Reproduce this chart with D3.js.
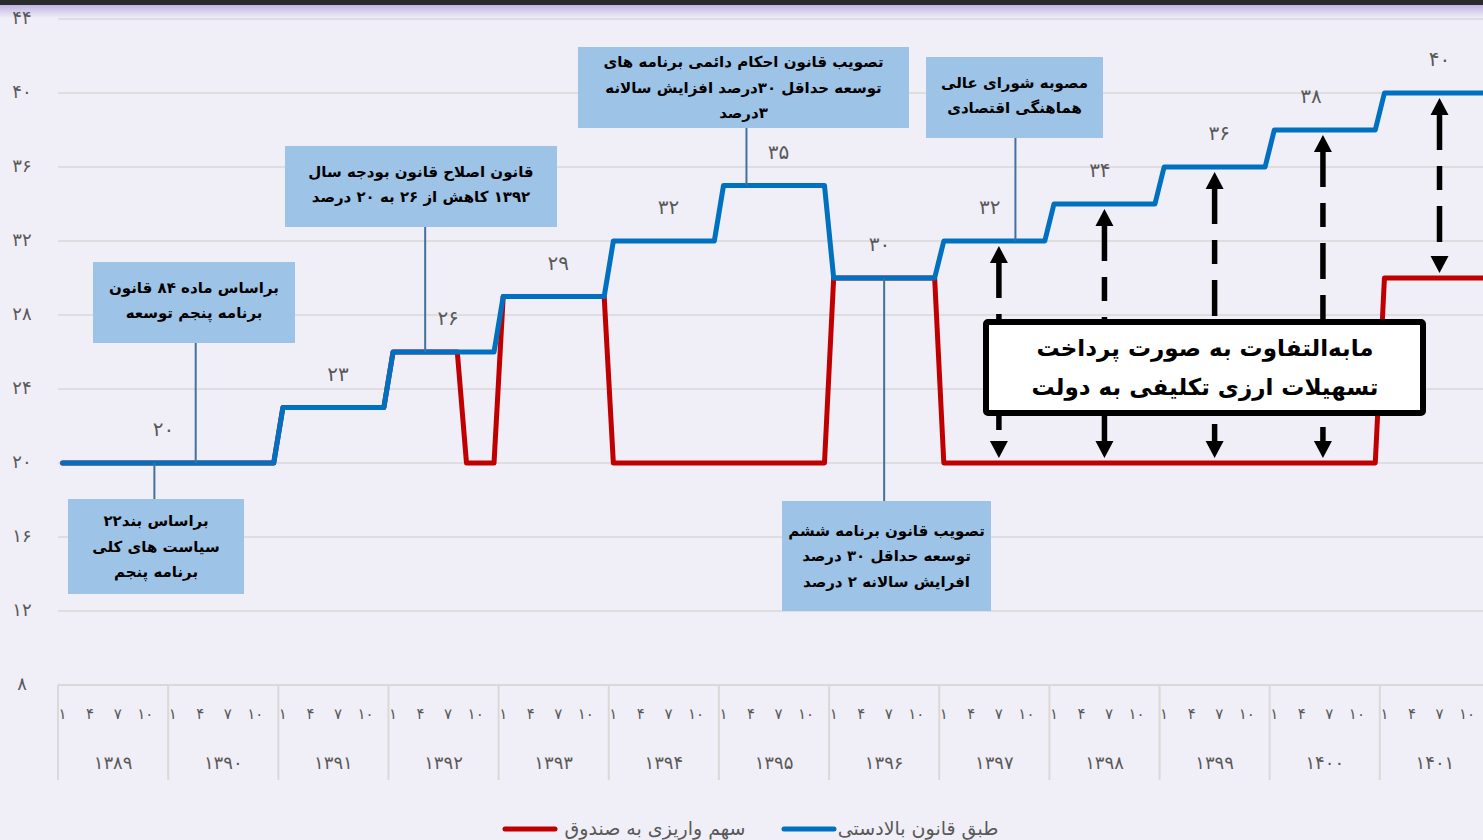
<!DOCTYPE html>
<html><head><meta charset="utf-8">
<script src="https://cdn.jsdelivr.net/npm/d3@7"></script>
<style>body{margin:0;background:#f0eef6;overflow:hidden} svg{display:block}</style>
</head><body><svg id="c" width="1483" height="840"></svg>
<script>
// ---------- data ----------
const years = [1389,1390,1391,1392,1393,1394,1395,1396,1397,1398,1399,1400,1401];
const monthTicks = [1,4,7,10];
const yTicks = [8,12,16,20,24,28,32,36,40,44];
// monthly values, one row per year
const blueValues = [
  20,20,20,20,20,20,20,20,20,20,20,20, // 1389
  20,20,20,20,20,20,20,20,20,20,20,20, // 1390
  23,23,23,23,23,23,23,23,23,23,23,23, // 1391
  26,26,26,26,26,26,26,26,26,26,26,26, // 1392
  29,29,29,29,29,29,29,29,29,29,29,29, // 1393
  32,32,32,32,32,32,32,32,32,32,32,32, // 1394
  35,35,35,35,35,35,35,35,35,35,35,35, // 1395
  30,30,30,30,30,30,30,30,30,30,30,30, // 1396
  32,32,32,32,32,32,32,32,32,32,32,32, // 1397
  34,34,34,34,34,34,34,34,34,34,34,34, // 1398
  36,36,36,36,36,36,36,36,36,36,36,36, // 1399
  38,38,38,38,38,38,38,38,38,38,38,38, // 1400
  40,40,40,40,40,40,40,40,40,40,40,40  // 1401
];
const redValues = [
  20,20,20,20,20,20,20,20,20,20,20,20, // 1389
  20,20,20,20,20,20,20,20,20,20,20,20, // 1390
  23,23,23,23,23,23,23,23,23,23,23,23, // 1391
  26,26,26,26,26,26,26,26,20,20,20,20, // 1392
  29,29,29,29,29,29,29,29,29,29,29,29, // 1393
  20,20,20,20,20,20,20,20,20,20,20,20, // 1394
  20,20,20,20,20,20,20,20,20,20,20,20, // 1395
  30,30,30,30,30,30,30,30,30,30,30,30, // 1396
  20,20,20,20,20,20,20,20,20,20,20,20, // 1397
  20,20,20,20,20,20,20,20,20,20,20,20, // 1398
  20,20,20,20,20,20,20,20,20,20,20,20, // 1399
  20,20,20,20,20,20,20,20,20,20,20,20, // 1400
  30,30,30,30,30,30,30,30,30,30,30,30  // 1401
];
const labelMonths = [11,30,42,54,66,78,89,101,113,126,136,150];
const arrowMonths = [102,113.5,125.5,137.3,150];
const seriesNames = ["سهم واریزی به صندوق","طبق قانون بالادستی"];
const noteTexts = [
  ["براساس بند۲۲","سیاست های کلی","برنامه پنجم"],
  ["براساس ماده ۸۴ قانون","برنامه پنجم توسعه"],
  ["قانون اصلاح قانون بودجه سال","۱۳۹۲ کاهش از ۲۶ به ۲۰ درصد"],
  ["تصویب قانون احکام دائمی برنامه های","توسعه حداقل ۳۰درصد افزایش سالانه","۳درصد"],
  ["تصویب قانون برنامه ششم","توسعه حداقل ۳۰ درصد","افرایش سالانه ۲ درصد"],
  ["مصوبه شورای عالی","هماهنگی اقتصادی"]
];
const noteMonths = [10,14.5,39.5,74.5,89.5,103.8]; // month each note points at
const boxText = ["مابه‌التفاوت به صورت پرداخت","تسهیلات ارزی تکلیفی به دولت"];

// ---------- layout ----------
const W = 1483, H = 840;
const noteBoxes = [ // x, y, w, h
  [68,499,176,95],[93,262,202,81],[285,146,272,81],[578,47,331,81],[782,501,209,110],[926,57,177,81]
];
const fa = n => String(n).replace(/\d/g, d => "۰۱۲۳۴۵۶۷۸۹"[d]);
const FONT = "'DejaVu Sans', sans-serif";
const GRAY = "#595959";

const svg = d3.select("#c");
svg.append("rect").attr("width",W).attr("height",H).attr("fill","#f0eef6");

const defs = svg.append("defs");
const grad = defs.append("linearGradient").attr("id","topg").attr("x1",0).attr("x2",0).attr("y1",0).attr("y2",1);
grad.append("stop").attr("offset","0%").attr("stop-color","#bfb0e2");
grad.append("stop").attr("offset","100%").attr("stop-color","#f0eef6");
svg.append("rect").attr("x",0).attr("y",4).attr("width",W).attr("height",14).attr("fill","url(#topg)");
svg.append("rect").attr("x",0).attr("y",0).attr("width",W).attr("height",5).attr("fill","#2b2b2b");

const x = d3.scaleBand().domain(d3.range(blueValues.length)).range([58,1490]);
const step = x.step();
const xf = m => 58 + (m + 0.5) * step;
const y = d3.scaleLinear().domain([8,44]).range([685,19]);

// gridlines
svg.append("g").selectAll("line").data(yTicks.slice(1)).join("line")
  .attr("x1",58).attr("x2",W).attr("y1",d=>y(d)).attr("y2",d=>y(d))
  .attr("stroke","#d9d9d9").attr("stroke-width",1.5);

// y labels
svg.append("g").selectAll("text").data(yTicks).join("text")
  .attr("x",22).attr("y",d=>y(d)-2).attr("dominant-baseline","central")
  .attr("text-anchor","middle").attr("font-family",FONT).attr("font-size",18)
  .attr("fill",GRAY).text(d=>fa(d));

// x axis
const ax = svg.append("g");
ax.append("line").attr("x1",58).attr("x2",W).attr("y1",y(8)).attr("y2",y(8))
  .attr("stroke","#d9d9d9").attr("stroke-width",2);
ax.selectAll("line.sep").data(d3.range(years.length+1)).join("line").attr("class","sep")
  .attr("x1",i=>58+i*12*step).attr("x2",i=>58+i*12*step)
  .attr("y1",y(8)).attr("y2",780).attr("stroke","#d9d9d9").attr("stroke-width",2);
years.forEach((yr,yi)=>{
  monthTicks.forEach(t=>{
    ax.append("text").attr("x",xf(yi*12+t-1)).attr("y",714)
      .attr("dominant-baseline","central").attr("text-anchor","middle")
      .attr("font-family",FONT).attr("font-size",15).attr("fill",GRAY).text(fa(t));
  });
  ax.append("text").attr("x",58+(yi+0.5)*12*step).attr("y",762)
    .attr("dominant-baseline","central").attr("text-anchor","middle")
    .attr("font-family",FONT).attr("font-size",18).attr("fill",GRAY).text(fa(yr));
});

// lines
const line = d3.line().x((d,i)=>x(i)+step/2).y(d=>y(d));
svg.append("path").datum(redValues).attr("d",line).attr("fill","none")
  .attr("stroke","#c00000").attr("stroke-width",5).attr("stroke-linejoin","round").attr("stroke-linecap","round");
svg.append("path").datum(blueValues).attr("d",line).attr("fill","none")
  .attr("stroke","#0070c0").attr("stroke-width",5).attr("stroke-linejoin","round").attr("stroke-linecap","round");

// notes
noteTexts.forEach((lines,k)=>{
  const [bx,by,bw,bh] = noteBoxes[k];
  const lx = xf(noteMonths[k]);
  const vy = y(blueValues[Math.round(noteMonths[k])]);
  const edge = by > vy ? by : by + bh;
  svg.append("line").attr("x1",lx).attr("x2",lx).attr("y1",edge).attr("y2",vy)
    .attr("stroke","#41719c").attr("stroke-width",2);
  svg.append("rect").attr("x",bx).attr("y",by).attr("width",bw).attr("height",bh).attr("fill","#9dc3e6");
  const n = lines.length, lh = 25.5;
  const cy = by + bh/2 - (n-1)*lh/2 - (n===2?2:0);
  lines.forEach((t,j)=>{
    svg.append("text").attr("x",bx+bw/2).attr("y",cy+j*lh)
      .attr("dominant-baseline","central").attr("text-anchor","middle").attr("direction","rtl")
      .attr("font-family",FONT).attr("font-weight","bold").attr("font-size",15).attr("fill","#000").text(t);
  });
});

// data labels
svg.append("g").selectAll("text").data(labelMonths).join("text")
  .attr("x",m=>xf(m)).attr("y",m=>y(blueValues[m])-34)
  .attr("dominant-baseline","central").attr("text-anchor","middle")
  .attr("font-family",FONT).attr("font-size",20).attr("fill",GRAY).text(m=>fa(blueValues[m]));

// arrows
const ag = svg.append("g");
arrowMonths.forEach(m=>{
  const i = Math.round(m);
  const ax0 = xf(m);
  const top = y(blueValues[i]) + 5, bot = y(redValues[i]) - 5;
  const hh = 17, hw = 9;
  ag.append("line").attr("x1",ax0).attr("x2",ax0).attr("y1",top+hh-1).attr("y2",bot-hh+1)
    .attr("stroke","#000").attr("stroke-width",5.5).attr("stroke-dasharray","36,16,24,16");
  ag.append("path").attr("d",`M${ax0},${top}L${ax0-hw},${top+hh}L${ax0+hw},${top+hh}Z`).attr("fill","#000");
  ag.append("path").attr("d",`M${ax0},${bot}L${ax0-hw},${bot-hh}L${ax0+hw},${bot-hh}Z`).attr("fill","#000");
});

// big box
svg.append("rect").attr("x",986).attr("y",322).attr("width",437).attr("height",91)
  .attr("fill","#fff").attr("stroke","#000").attr("stroke-width",6).attr("rx",2);
boxText.forEach((t,j)=>{
  svg.append("text").attr("x",1205).attr("y",348+j*39)
    .attr("dominant-baseline","central").attr("text-anchor","middle").attr("direction","rtl")
    .attr("font-family",FONT).attr("font-weight","bold").attr("font-size",23).attr("fill","#000").text(t);
});

// legend
const leg = [
  {name:seriesNames[0], color:"#c00000", x1:505, x2:555, tx:655},
  {name:seriesNames[1], color:"#0070c0", x1:784, x2:834, tx:918}
];
leg.forEach(l=>{
  svg.append("line").attr("x1",l.x1).attr("x2",l.x2).attr("y1",829).attr("y2",829)
    .attr("stroke",l.color).attr("stroke-width",5).attr("stroke-linecap","round");
  svg.append("text").attr("x",l.tx).attr("y",828).attr("dominant-baseline","central")
    .attr("text-anchor","middle").attr("direction","rtl")
    .attr("font-family",FONT).attr("font-size",19).attr("fill",GRAY).text(l.name);
});
</script></body></html>
